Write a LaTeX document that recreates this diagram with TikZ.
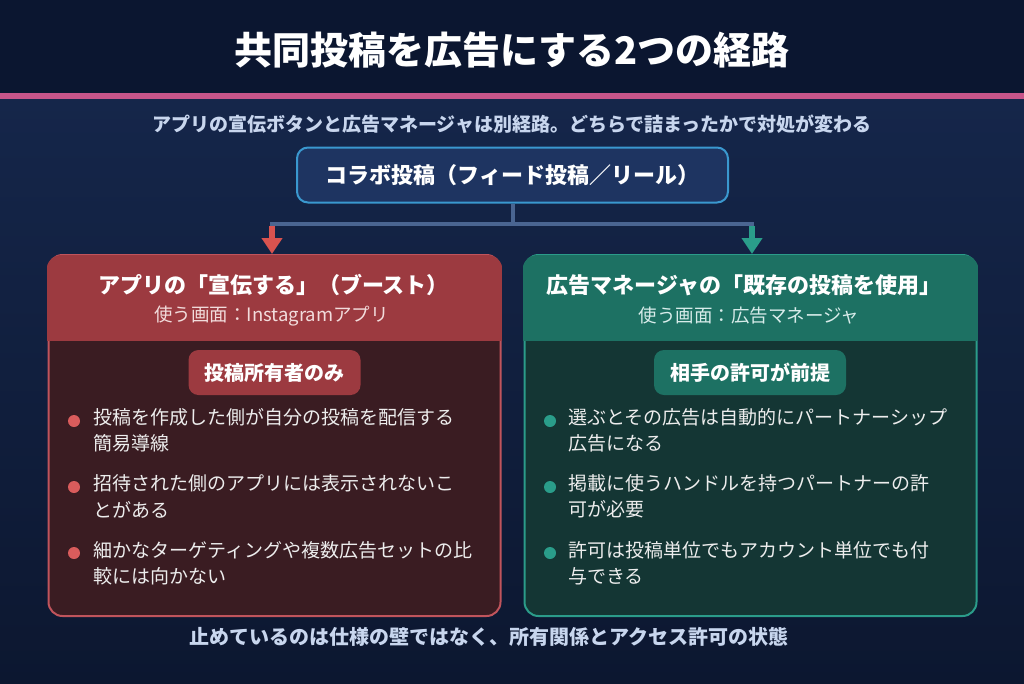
\documentclass[tikz,border=0pt]{standalone}
\usepackage{fontspec}
\setmainfont{Noto Sans CJK JP}
\usetikzlibrary{arrows.meta}
\definecolor{bgtop}{HTML}{0B1630}
\definecolor{bgmid}{HTML}{15264A}
\definecolor{bgbot}{HTML}{0C1730}
\definecolor{pinkline}{HTML}{C8558A}
\definecolor{subcol}{HTML}{C8D6EE}
\definecolor{topfill}{HTML}{1E3461}
\definecolor{topborder}{HTML}{3A98CF}
\definecolor{conncol}{HTML}{4A6591}
\definecolor{redarr}{HTML}{D9534F}
\definecolor{tealarr}{HTML}{2A9D8A}
\definecolor{lhead}{HTML}{9C3A40}
\definecolor{lbody}{HTML}{3A1C22}
\definecolor{lborder}{HTML}{C0545C}
\definecolor{ldot}{HTML}{D95C5C}
\definecolor{lsub}{HTML}{F2DCDC}
\definecolor{rhead}{HTML}{1D7163}
\definecolor{rbody}{HTML}{143634}
\definecolor{rborder}{HTML}{2B9C8A}
\definecolor{rdot}{HTML}{2A9D8A}
\definecolor{rsub}{HTML}{D8ECEA}
\definecolor{bultext}{HTML}{EDEDED}
\tikzset{
  topbox/.style={draw=topborder, line width=2pt, fill=topfill, rounded corners=11pt,
    minimum width=431pt, minimum height=55pt, text=white, font=\bfseries\fontsize{22}{26}\selectfont},
  panelbox/.style={line width=2pt, rounded corners=14pt, minimum width=452pt, minimum height=361pt, inner sep=0pt},
  conn/.style={draw=conncol, line width=4pt},
  arrowline/.style={line width=6pt, -{Triangle[width=20pt,length=16pt]}},
  htitle/.style={text=white, font=\bfseries\fontsize{22}{26}\selectfont, inner sep=0pt},
  hsub/.style={font=\fontsize{18.5}{22}\selectfont, inner sep=0pt},
  tagbox/.style={rounded corners=10pt, minimum height=45pt, text=white, font=\bfseries\fontsize{20}{23}\selectfont},
  btxt/.style={anchor=west, text=bultext, font=\fontsize{19}{22}\selectfont, inner sep=0pt},
  bdot/.style={circle, minimum size=12pt, inner sep=0pt},
}
\begin{document}
\begin{tikzpicture}[x=1pt,y=-1pt]
\useasboundingbox (0,0) rectangle (1024,683);
% background
\fill[bgtop] (0,0) rectangle (1024,94);
\shade[top color=bgmid, bottom color=bgbot] (0,99) rectangle (1024,683);
\fill[pinkline] (0,93) rectangle (1024,99);
% title
\node[text=white, font=\bfseries\fontsize{38}{44}\selectfont, inner sep=0pt] (title) at (512,50) {共同投稿を広告にする2つの経路};
\node[text=subcol, font=\bfseries\fontsize{19}{22}\selectfont, inner sep=0pt] (subtitle) at (512,124) {アプリの宣伝ボタンと広告マネージャは別経路。どちらで詰まったかで対処が変わる};
% top box
\node[topbox] (top) at (512.5,175) {コラボ投稿（フィード投稿／リール）};
% panels
\node[panelbox, fill=lbody, draw=lborder] (lp) at (274.5,435.5) {};
\node[panelbox, fill=rbody, draw=rborder] (rp) at (750.5,435.5) {};
\begin{scope}
\clip[rounded corners=15pt] ([shift={(-1pt,1pt)}]lp.south west) rectangle ([shift={(1pt,-1pt)}]lp.north east);
\fill[lhead] ([shift={(-1pt,-1pt)}]lp.north west) rectangle ([shift={(1pt,0)}]lp.east |- 0,341);
\end{scope}
\begin{scope}
\clip[rounded corners=15pt] ([shift={(-1pt,1pt)}]rp.south west) rectangle ([shift={(1pt,-1pt)}]rp.north east);
\fill[rhead] ([shift={(-1pt,-1pt)}]rp.north west) rectangle ([shift={(1pt,0)}]rp.east |- 0,341);
\end{scope}
% connectors
\coordinate (jl) at (272,224);
\coordinate (jr) at (752,224);
\draw[conn] (top.south) -- (top.south |- jl);
\draw[conn] ([xshift=-2pt]jl) -- ([xshift=2pt]jr);
\draw[arrowline, redarr] ([yshift=-2pt]jl) -- (lp.north -| jl);
\draw[arrowline, tealarr] ([yshift=-2pt]jr) -- (rp.north -| jr);
% left header
\node[htitle] (lt) at (273.5,285) {アプリの「宣伝する」（ブースト）};
\node[hsub, text=lsub] (ls) at (271.5,316) {使う画面：Instagramアプリ};
\node[tagbox, fill=lhead, minimum width=172pt] (ltag) at (274.5,372.5) {投稿所有者のみ};
% right header
\node[htitle] (rt) at (744,285) {広告マネージャの「既存の投稿を使用」};
\node[hsub, text=rsub] (rs) at (749,316) {使う画面：広告マネージャ};
\node[tagbox, fill=rhead, minimum width=192pt] (rtag) at (750,372.5) {相手の許可が前提};
% left bullets
\node[bdot, fill=ldot] (ld1) at (74,421) {};
\node[btxt] (l1a) at (93,417) {投稿を作成した側が自分の投稿を配信する};
\node[btxt] (l1b) at (93,443) {簡易導線};
\node[bdot, fill=ldot] (ld2) at (74,487) {};
\node[btxt] (l2a) at (93,483.5) {招待された側のアプリには表示されないこ};
\node[btxt] (l2b) at (93,509.5) {とがある};
\node[bdot, fill=ldot] (ld3) at (74,553) {};
\node[btxt] (l3a) at (93,550) {細かなターゲティングや複数広告セットの比};
\node[btxt] (l3b) at (93,576) {較には向かない};
% right bullets
\node[bdot, fill=rdot] (rd1) at (550,421) {};
\node[btxt] (r1a) at (568,417) {選ぶとその広告は自動的にパートナーシップ};
\node[btxt] (r1b) at (568,443) {広告になる};
\node[bdot, fill=rdot] (rd2) at (550,487) {};
\node[btxt] (r2a) at (568,483.5) {掲載に使うハンドルを持つパートナーの許};
\node[btxt] (r2b) at (568,509.5) {可が必要};
\node[bdot, fill=rdot] (rd3) at (550,553) {};
\node[btxt] (r3a) at (568,550) {許可は投稿単位でもアカウント単位でも付};
\node[btxt] (r3b) at (568,576) {与できる};
% footer
\node[text=subcol, font=\bfseries\fontsize{20}{23}\selectfont, inner sep=0pt] (footer) at (489,637) {止めているのは仕様の壁ではなく、所有関係とアクセス許可の状態};
\end{tikzpicture}
\end{document}
